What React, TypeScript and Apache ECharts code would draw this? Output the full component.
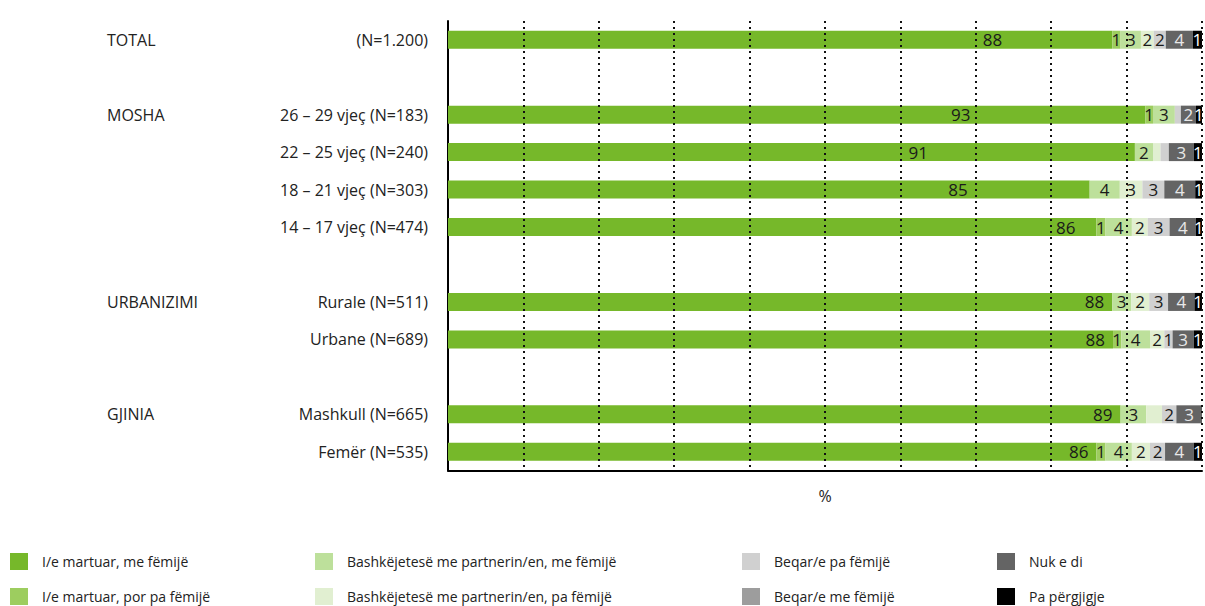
import React, { useEffect, useRef } from "react";
import * as echarts from "echarts";

const groupLabels = ["TOTAL", "", "MOSHA", "", "", "", "", "URBANIZIMI", "", "", "GJINIA", ""];
const rowLabels = [
  "(N=1.200)",
  "",
  "26 – 29 vjeç (N=183)",
  "22 – 25 vjeç (N=240)",
  "18 – 21 vjeç (N=303)",
  "14 – 17 vjeç (N=474)",
  "",
  "Rurale (N=511)",
  "Urbane (N=689)",
  "",
  "Mashkull (N=665)",
  "Femër (N=535)",
];

const seriesNames = [
  "I/e martuar, me fëmijë",
  "I/e martuar, por pa fëmijë",
  "Bashkëjetesë me partnerin/en, me fëmijë",
  "Bashkëjetesë me partnerin/en, pa fëmijë",
  "Beqar/e pa fëmijë",
  "Beqar/e me fëmijë",
  "Nuk e di",
  "Pa përgjigje",
];

const marriedWithChildren = [88.1, null, 92.5, 91.1, 85.1, 86.0, null, 88.1, 88.2, null, 89.2, 86.0];
const marriedNoChildren = [1.1, null, 1.0, 0, 0, 1.2, null, 0, 1.1, null, 0, 1.2];
const cohabitWithChildren = [2.7, null, 2.9, 2.4, 4.0, 3.5, null, 2.5, 3.8, null, 3.4, 3.5];
const cohabitNoChildren = [1.7, null, 0, 1.0, 3.0, 2.1, null, 2.4, 1.9, null, 2.1, 2.4];
const singleNoChildren = [1.6, null, 0.8, 1.1, 2.9, 2.9, null, 2.5, 1.1, null, 1.9, 2.0];
const singleWithChildren = [0, null, 0, 0, 0, 0, null, 0, 0, null, 0, 0];
const dontKnow = [3.6, null, 2.0, 3.3, 4.1, 3.5, null, 3.5, 2.8, null, 3.4, 3.8];
const noAnswer = [1.2, null, 0.8, 1.1, 0.9, 0.8, null, 1.0, 1.1, null, 0, 1.1];

const seriesValues = [
  marriedWithChildren,
  marriedNoChildren,
  cohabitWithChildren,
  cohabitNoChildren,
  singleNoChildren,
  singleWithChildren,
  dontKnow,
  noAnswer,
];

// percentage gridlines (dotted, drawn over the bars)
const gridTicks = [10, 20, 30, 40, 50, 60, 70, 80, 90, 100];

// [seriesIndex, rowIndex] of segments whose value label is not printed
const hiddenLabels = [
  [3, 3],
  [4, 2],
  [4, 3],
  [3, 10],
];

// style: horizontal shift of the first segment's label
const greenLabelShift = [-102, 0, -167, -199, -114, -13, 0, 0, 0, 0, 0, 0];

const colors = ["#76b82a", "#9dcd5f", "#bde09b", "#e1efd1", "#d0d0d0", "#9d9d9d", "#646464", "#000000"];
const labelColors = ["#1a1a1a", "#1a1a1a", "#1a1a1a", "#1a1a1a", "#1a1a1a", "#1a1a1a", "#e8e8e8", "#ffffff"];
const FONT = "'Open Sans', 'Noto Sans', sans-serif";

export default function App() {
  const ref = useRef<HTMLDivElement>(null);

  useEffect(() => {
    if (!ref.current) return;
    const chart = echarts.init(ref.current, null, { renderer: "svg" });

    const isHidden = (s: number, r: number) => hiddenLabels.some(([a, b]) => a === s && b === r);

    const series: any[] = seriesValues.map((vals, si) => ({
      name: seriesNames[si],
      type: "bar",
      stack: "total",
      barWidth: 18,
      itemStyle: { color: colors[si] },
      label: {
        show: true,
        position: si === 0 ? "insideRight" : "inside",
        distance: 8,
        fontFamily: FONT,
        fontSize: 17,
        color: labelColors[si],
        formatter: (p: any) => String(Math.round(p.value)),
      },
      data: vals.map((v, ri) => {
        if (v === null) return "-";
        const show = v > 0 && !isHidden(si, ri);
        const item: any = { value: v, label: { show } };
        if (si === 0) item.label.offset = [greenLabelShift[ri], 0];
        return item;
      }),
    }));

    // dotted gridlines above the bars
    series[series.length - 1].markLine = {
      silent: true,
      symbol: "none",
      z: 10,
      label: { show: false },
      lineStyle: { color: "#111", width: 2, type: [2, 4] },
      data: gridTicks.map((t) => ({ xAxis: t })),
    };

    const legendLefts = [10, 315, 742, 997];
    const legends = legendLefts.map((left, c) => ({
      orient: "vertical",
      left,
      top: 553,
      padding: 0,
      itemWidth: 18,
      itemHeight: 17,
      itemGap: 18,
      icon: "rect",
      selectedMode: false,
      data: [seriesNames[c * 2], seriesNames[c * 2 + 1]],
      textStyle: {
        fontFamily: FONT,
        fontSize: 14,
        lineHeight: 17,
        color: "#222",
        padding: [0, 0, 0, 9],
      },
    }));

    chart.setOption({
      animation: false,
      textStyle: { fontFamily: FONT },
      grid: { left: 448, right: 3, top: 21, height: 449.5 },
      legend: legends,
      xAxis: {
        type: "value",
        min: 0,
        max: 100,
        interval: 10,
        name: "%",
        nameLocation: "middle",
        nameGap: 17,
        nameTextStyle: { fontFamily: FONT, fontSize: 16, color: "#222" },
        axisLabel: { show: false },
        axisTick: { show: false },
        axisLine: { show: true, lineStyle: { color: "#000", width: 2 } },
        splitLine: { show: false },
      },
      yAxis: {
        type: "category",
        inverse: true,
        data: rowLabels.map((_, i) => "row" + i),
        axisLine: { show: true, lineStyle: { color: "#000", width: 2 } },
        axisTick: { show: false },
        axisLabel: {
          margin: 20,
          align: "right",
          formatter: (_v: string, i: number) => {
            const g = groupLabels[i] || " ";
            const s = rowLabels[i] || " ";
            return `{g|${g}}{s|${s}}`;
          },
          rich: {
            g: { width: 140, align: "left", fontFamily: FONT, fontSize: 16, color: "#222" },
            s: { width: 181, align: "right", fontFamily: FONT, fontSize: 16, color: "#222" },
          },
        },
        splitLine: { show: false },
      },
      series,
    });

    return () => chart.dispose();
  }, []);

  return (
    <div
      ref={ref}
      style={{ position: "fixed", left: 0, top: 0, width: 1205, height: 606, background: "#fff" }}
    />
  );
}
